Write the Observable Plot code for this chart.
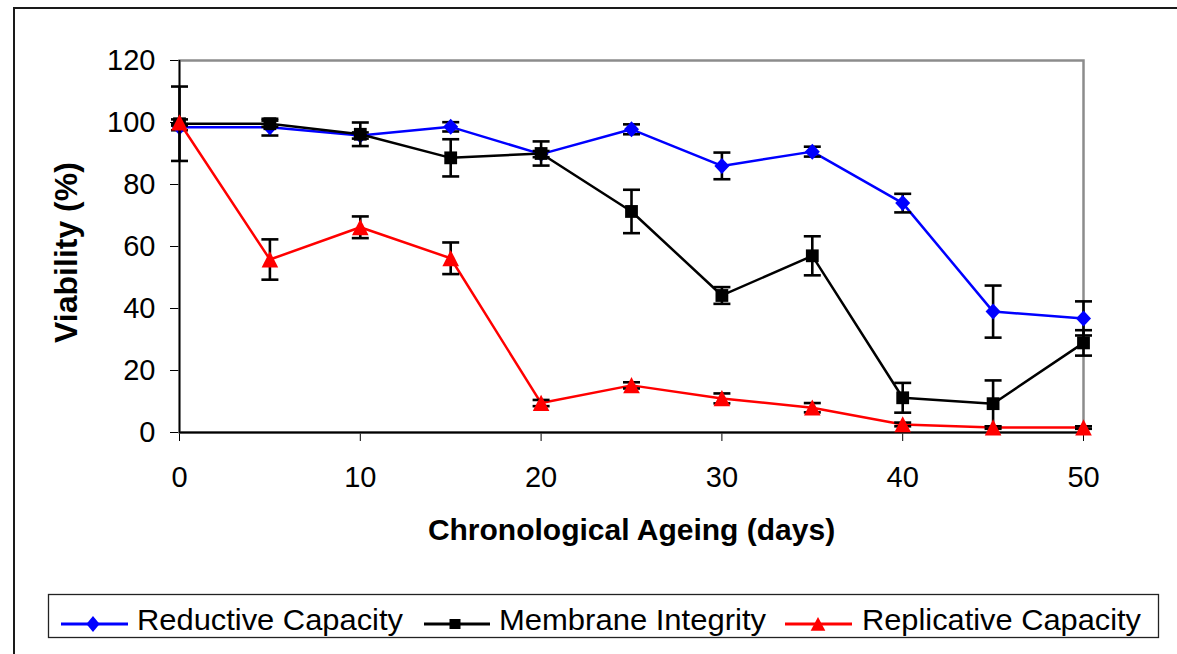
<!DOCTYPE html>
<html>
<head>
<meta charset="utf-8">
<script src="https://cdn.jsdelivr.net/npm/d3@7"></script>
<script src="https://cdn.jsdelivr.net/npm/@observablehq/plot@0.6"></script>
<style>
  html, body { margin: 0; padding: 0; background: #fff; }
  #wrap { position: relative; width: 1177px; height: 654px; overflow: hidden; background: #fff; font-family: "Liberation Sans", Arial, sans-serif; }
  #outer { position: absolute; left: 13px; top: 7px; right: -5px; bottom: -5px; border-left: 2px solid #1a1a1a; border-top: 2px solid #1a1a1a; }
  #chart { position: absolute; left: 0; top: 0; }
  #legend { position: absolute; left: 0; top: 580px; }
</style>
</head>
<body>
<div id="wrap">
  <div id="outer"></div>
  <div id="chart"></div>
  <div id="legend"></div>
</div>
<script>
// ---- data ----
const days = [0, 5, 10, 15, 20, 25, 30, 35, 40, 45, 50];
const reductive    = [98.5, 98.5, 95.8, 98.6, 89.8, 97.8, 86.0, 90.6, 74.0, 39.0, 36.8];
const reductiveErr = [1.0, 2.7, 1.0, 1.5, 1.0, 1.6, 4.3, 1.6, 3.0, 8.4, 5.5];
const membrane     = [99.6, 99.6, 96.2, 88.6, 90.0, 71.3, 44.2, 57.0, 11.2, 9.3, 28.9];
const membraneErr  = [12.0, 1.0, 3.8, 6.0, 3.9, 7.0, 2.7, 6.3, 4.8, 7.5, 4.1];
const replicative    = [100, 55.8, 66.2, 56.2, 9.5, 15.2, 11.0, 8.0, 2.6, 1.6, 1.6];
const replicativeErr = [1.0, 6.5, 3.5, 5.1, 1.0, 1.0, 1.6, 1.5, 0.6, 0.4, 0.4];
const seriesNames  = ["Reductive Capacity", "Membrane Integrity", "Replicative Capacity"];
const seriesColors = ["#0000ff", "#000000", "#ff0000"];
const xTicks = [0, 10, 20, 30, 40, 50];
const yTicks = [0, 20, 40, 60, 80, 100, 120];
const xTitle = "Chronological Ageing (days)";
const yTitle = "Viability (%)";

// ---- symbols ----
const diamondSym = { draw(ctx, size) { const s = Math.sqrt(size / Math.PI); const w = s * 0.94;
  ctx.moveTo(0, -s); ctx.lineTo(w, 0); ctx.lineTo(0, s); ctx.lineTo(-w, 0); ctx.closePath(); } };
const squareSym = { draw(ctx, size) { const s = Math.sqrt(size / Math.PI);
  ctx.moveTo(-s, -s); ctx.lineTo(s, -s); ctx.lineTo(s, s); ctx.lineTo(-s, s); ctx.closePath(); } };
const triangleSym = { draw(ctx, size) { const s = Math.sqrt(size / Math.PI);
  ctx.moveTo(0, -s); ctx.lineTo(s, s * 0.95); ctx.lineTo(-s, s * 0.95); ctx.closePath(); } };
const capSym = { draw(ctx, size) { const s = Math.sqrt(size / Math.PI);
  ctx.moveTo(-s, 0); ctx.lineTo(s, 0); } };

const seriesValues = [reductive, membrane, replicative];
const seriesErrs = [reductiveErr, membraneErr, replicativeErr];
const seriesSyms = [diamondSym, squareSym, triangleSym];
const seriesR = [8, 6.4, 8.3];

const marks = [
  Plot.frame({ stroke: "#8c8c8c", strokeWidth: 2.5 }),
  Plot.ruleY([0], { stroke: "#000", strokeWidth: 2 }),
  Plot.ruleX([0], { stroke: "#000", strokeWidth: 1.6 })
];

seriesNames.forEach((name, i) => {
  const rows = days.map((d, j) => ({ series: name, day: d, value: seriesValues[i][j], err: seriesErrs[i][j] }));
  marks.push(
    Plot.line(rows, { x: "day", y: "value", stroke: seriesColors[i], strokeWidth: 2.5 }),
    Plot.ruleX(rows, { x: "day", y1: d => d.value - d.err, y2: d => d.value + d.err, stroke: "#000", strokeWidth: 2.6 }),
    Plot.dot(rows, { x: "day", y: d => d.value + d.err, symbol: capSym, r: 8.5, fill: "none", stroke: "#000", strokeWidth: 2.6 }),
    Plot.dot(rows, { x: "day", y: d => d.value - d.err, symbol: capSym, r: 8.5, fill: "none", stroke: "#000", strokeWidth: 2.6 }),
    Plot.dot(rows, { x: "day", y: "value", symbol: seriesSyms[i], r: seriesR[i], fill: seriesColors[i], stroke: "none" })
  );
});

marks.push(
  Plot.text([xTitle], { text: d => d, frameAnchor: "bottom", dy: 98, textAnchor: "middle", lineAnchor: "middle", fontWeight: "bold", fontSize: 30 }),
  Plot.text([yTitle], { text: d => d, frameAnchor: "left", dx: -113, dy: 6, rotate: -90, textAnchor: "middle", lineAnchor: "middle", fontWeight: "bold", fontSize: 32 })
);

const chart = Plot.plot({
  width: 1177,
  height: 580,
  marginLeft: 179,
  marginRight: 94,
  marginTop: 60,
  marginBottom: 148,
  style: { fontFamily: "'Liberation Sans', Arial, sans-serif", fontSize: "29px", color: "#000", background: "transparent", overflow: "visible" },
  x: { domain: [0, 50], ticks: xTicks, tickSize: 9, tickPadding: 25, label: null },
  y: { domain: [0, 120], ticks: yTicks, tickSize: 9, tickPadding: 15, label: null },
  marks
});
document.getElementById("chart").appendChild(chart);

// ---- legend ----
const legendItems = [
  { x1: 61, x2: 128, mx: 93, tx: 137, tw: 266 },
  { x1: 424, x2: 490, mx: 455, tx: 499, tw: 267 },
  { x1: 785, x2: 852, mx: 818, tx: 862, tw: 279 }
];
const legendSyms = [diamondSym, squareSym, triangleSym];
const legendSizes = [Math.PI * 8 * 8, Math.PI * 5 * 5, Math.PI * 7 * 7];
const legendScaleX = [0.88, 1.1, 1.05];
const lsvg = d3.select("#legend").append("svg").attr("width", 1177).attr("height", 74)
  .style("font-family", "'Liberation Sans', Arial, sans-serif");
lsvg.append("rect").attr("x", 48.5).attr("y", 14.5).attr("width", 1110).attr("height", 43)
  .attr("fill", "#fff").attr("stroke", "#222").attr("stroke-width", 1.3);
seriesNames.forEach((name, i) => {
  const it = legendItems[i];
  const g = lsvg.append("g");
  g.append("line").attr("x1", it.x1).attr("x2", it.x2).attr("y1", 44).attr("y2", 44)
    .attr("stroke", seriesColors[i]).attr("stroke-width", 2.8);
  g.append("path").attr("d", d3.symbol(legendSyms[i], legendSizes[i])())
    .attr("transform", `translate(${it.mx},44) scale(${legendScaleX[i]},1)`)
    .attr("fill", seriesColors[i]);
  g.append("text").attr("x", it.tx).attr("y", 50).attr("font-size", 29)
    .attr("textLength", it.tw).attr("lengthAdjust", "spacingAndGlyphs")
    .attr("fill", "#000").text(name);
});
</script>
</body>
</html>
